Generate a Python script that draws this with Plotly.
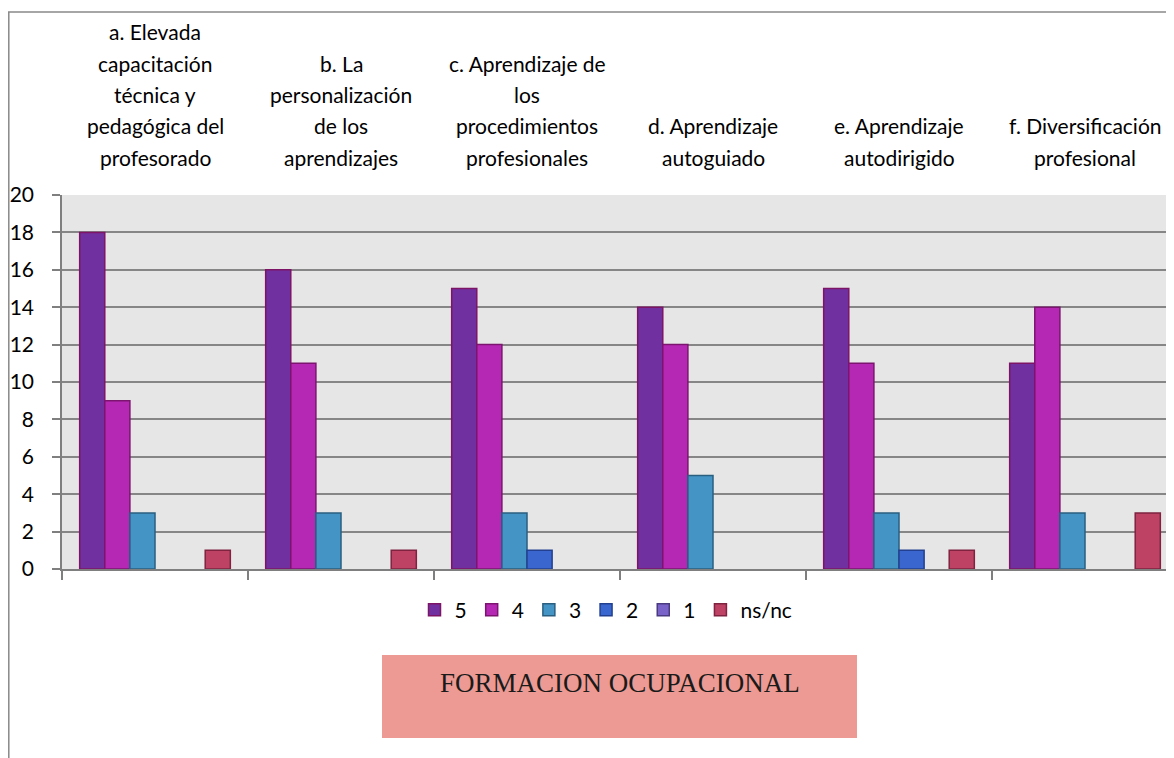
import plotly.graph_objects as go

categories = ["a", "b", "c", "d", "e", "f"]
category_labels = [
    "a. Elevada<br>capacitación<br>técnica y<br>pedagógica del<br>profesorado",
    "b. La<br>personalización<br>de los<br>aprendizajes",
    "c. Aprendizaje de<br>los<br>procedimientos<br>profesionales",
    "d. Aprendizaje<br>autoguiado",
    "e. Aprendizaje<br>autodirigido",
    "f. Diversificación<br>profesional",
]
series_names = ["5", "4", "3", "2", "1", "ns/nc"]
v5 = [18, 16, 15, 14, 15, 11]
v4 = [9, 11, 12, 12, 11, 14]
v3 = [3, 3, 3, 5, 3, 3]
v2 = [0, 0, 1, 0, 1, 0]
v1 = [0, 0, 0, 0, 0, 0]
vns = [1, 1, 0, 0, 1, 3]
series_values = [v5, v4, v3, v2, v1, vns]

fills = ["#7030A0", "#B428B4", "#4494C6", "#3A66D0", "#7A63C8", "#BE4264"]
borders = ["#7E1466", "#7C1470", "#2A5F80", "#22408F", "#4A3A80", "#7F2340"]

OFF = 8  # page body margin
W, H = 1166, 750
ML, MR, MT, MB = 62 - OFF, 0, 195 - OFF, 750 - (569 - OFF)
pw, ph = W - ML - MR, H - MT - MB


def px_x(p):
    return (p - OFF - ML) / pw


def px_y(p):
    return (H - MB - (p - OFF)) / ph


FONT = "Lato, 'Open Sans', sans-serif"

fig = go.Figure()
for name, vals, fc, bc in zip(series_names, series_values, fills, borders):
    fig.add_trace(go.Bar(
        x=categories, y=[v if v else None for v in vals], name=name,
        marker=dict(color=fc, line=dict(color=bc, width=1.5)),
    ))

xr = [-0.5, -0.5 + pw / 186.0]

fig.update_layout(
    width=W, height=H,
    margin=dict(l=ML, r=MR, t=MT, b=MB, pad=0),
    paper_bgcolor="white", plot_bgcolor="#E6E6E6",
    barmode="group", bargap=0.19, bargroupgap=0,
    font=dict(family=FONT, size=20, color="black"),
    xaxis=dict(type="category", range=xr, showticklabels=False,
               ticks="outside", tickson="boundaries", ticklen=9, tickcolor="#7F7F7F",
               tickwidth=1.5, showgrid=False, showline=True, linecolor="#7F7F7F",
               linewidth=2, zeroline=False),
    yaxis=dict(range=[0, 20], dtick=2, ticks="outside", ticklen=8,
               tickcolor="#7F7F7F", tickwidth=1.5, showline=True,
               linecolor="#7F7F7F", linewidth=1.5, gridcolor="#868686",
               gridwidth=1.5, zeroline=False, ticklabelstandoff=14,
               tickfont=dict(size=21, family=FONT)),
    legend=dict(orientation="h", x=px_x(606), y=px_y(610), xanchor="center",
                yanchor="middle", font=dict(size=21, family=FONT),
                bgcolor="rgba(0,0,0,0)", itemwidth=30),
    showlegend=True,
)

# category labels above the plot, one line at a time (bottom aligned)
LINE = 31.3
LAST = 157
for cat, lab in zip(categories, category_labels):
    lines = lab.split("<br>")
    n = len(lines)
    for k, ln in enumerate(lines):
        yc = LAST - (n - 1 - k) * LINE
        fig.add_annotation(xref="x", yref="paper", x=cat, y=px_y(yc), text=ln,
                           showarrow=False, xanchor="center", yanchor="middle",
                           font=dict(size=21, family=FONT, color="black"))

# outer chart frame (left and top edges)
fig.add_shape(type="line", xref="paper", yref="paper", x0=px_x(8.8), x1=px_x(8.8),
              y0=px_y(12), y1=px_y(770), line=dict(color="#888888", width=1.5))
fig.add_shape(type="line", xref="paper", yref="paper", x0=px_x(8), x1=1.01,
              y0=px_y(12), y1=px_y(12), line=dict(color="#888888", width=1.5))

# title box
fig.add_shape(type="rect", xref="paper", yref="paper", x0=px_x(382), x1=px_x(857),
              y0=px_y(738), y1=px_y(655), fillcolor="#EC9A93", line=dict(width=0),
              layer="below")
fig.add_annotation(xref="paper", yref="paper", x=px_x(620), y=px_y(683),
                   text="FORMACION OCUPACIONAL", showarrow=False,
                   font=dict(family="'Liberation Serif', 'DejaVu Serif', serif",
                             size=27, color="#1a1a1a"),
                   xanchor="center", yanchor="middle")

fig.write_html("out.html")
